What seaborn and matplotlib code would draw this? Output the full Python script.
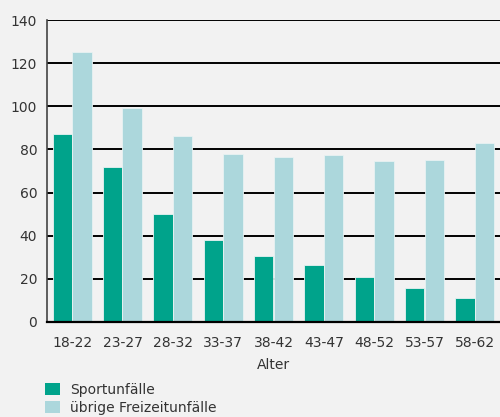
#!/usr/bin/env python3
"""Sport- vs. Freizeitunfälle nach Altersgruppe (grouped bars)."""

import matplotlib
matplotlib.use("Agg")
import matplotlib.pyplot as plt
import pandas as pd
import seaborn as sns
from matplotlib.patches import Patch

age_groups = ["18-22", "23-27", "28-32", "33-37", "38-42", "43-47", "48-52", "53-57", "58-62"]
sport = [87, 72, 50, 38, 30.5, 26.5, 21, 15.5, 11]
freizeit = [125, 99, 86, 78, 76.5, 77.5, 74.5, 75, 83]
series_names = ["Sportunfälle", "übrige Freizeitunfälle"]
colors = ["#00a38b", "#acd7dc"]

df = pd.DataFrame({
    "Alter": age_groups * 2,
    "Wert": sport + freizeit,
    "Serie": [series_names[0]] * len(age_groups) + [series_names[1]] * len(age_groups),
})

sns.set_theme(style="white")
plt.rcParams["font.family"] = ["DejaVu Sans"]
text_color = "#333333"
fs = 10

fig = plt.figure(figsize=(5.0, 4.17), dpi=100, facecolor="#f2f2f2")
ax = fig.add_axes([0.094, 0.228, 0.906, 0.724])
ax.set_facecolor("#f2f2f2")

sns.barplot(data=df, x="Alter", y="Wert", hue="Serie", palette=colors,
            saturation=1, width=0.78, gap=0.0, edgecolor="#e8f2f2", linewidth=0.6,
            legend=False, ax=ax)

ax.set_ylim(0, 140)
ax.set_xlim(-0.5, 8.5)
ax.set_yticks(range(0, 141, 20))
for y in range(20, 141, 20):
    ax.axhline(y, color="black", linewidth=1.4, zorder=0.5)
for b in ax.patches:
    b.set_zorder(2)

ax.spines["top"].set_visible(False)
ax.spines["right"].set_visible(False)
ax.spines["left"].set_color("#444444")
ax.spines["left"].set_linewidth(1.2)
ax.spines["bottom"].set_color("black")
ax.spines["bottom"].set_linewidth(1.6)
ax.spines["bottom"].set_zorder(3)

ax.tick_params(axis="y", length=0, labelsize=fs, colors=text_color, pad=7)
ax.tick_params(axis="x", length=0, labelsize=fs, colors=text_color, pad=10)
ax.set_xlabel("Alter", fontsize=fs, color=text_color, labelpad=6)
ax.set_ylabel("")

handles = [Patch(facecolor=c, edgecolor="none") for c in colors]
fig.legend(handles, series_names, loc="upper left", bbox_to_anchor=(0.09, 0.082),
           frameon=False, fontsize=fs, labelcolor=text_color,
           handlelength=1.1, handleheight=1.0, handletextpad=0.7,
           labelspacing=0.3, borderaxespad=0.0, borderpad=0.0)

fig.savefig("out.png", dpi=100, facecolor=fig.get_facecolor())
plt.close(fig)
